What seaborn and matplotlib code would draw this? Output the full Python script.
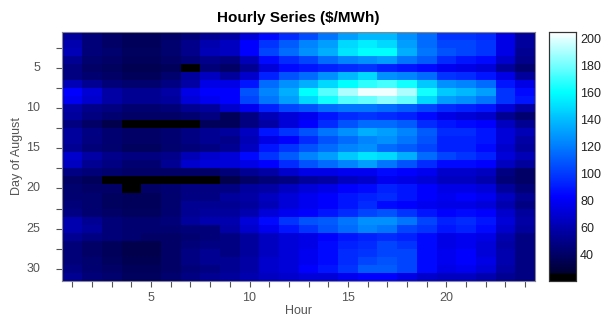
import matplotlib
matplotlib.use("Agg")
import matplotlib.pyplot as plt
import numpy as np
import pandas as pd
import seaborn as sns
from matplotlib.colors import LinearSegmentedColormap

hours = list(range(1, 25))
days = list(range(1, 32))

# $/MWh by day (rows) and hour (columns)
# low values (~20) are the black cells
prices = [
    [55, 45, 40, 37, 37, 40, 45, 52, 57, 72, 85, 95, 105, 118, 130, 138, 138, 126, 115, 98, 98, 95, 75, 55],
    [60, 45, 40, 37, 37, 42, 50, 60, 65, 82, 98, 110, 122, 130, 148, 155, 148, 130, 115, 103, 103, 98, 75, 55],
    [62, 45, 42, 38, 38, 42, 50, 62, 65, 82, 103, 115, 126, 135, 152, 160, 160, 135, 118, 107, 103, 98, 75, 52],
    [52, 42, 40, 37, 37, 40, 45, 50, 47, 62, 85, 95, 103, 115, 122, 126, 130, 118, 110, 95, 88, 85, 68, 50],
    [47, 40, 38, 35, 35, 37, 20, 45, 40, 52, 72, 85, 88, 92, 95, 98, 92, 88, 85, 78, 75, 72, 55, 43],
    [47, 43, 40, 37, 37, 42, 55, 65, 55, 68, 92, 107, 115, 126, 138, 148, 126, 122, 115, 98, 95, 88, 75, 55],
    [62, 52, 45, 42, 42, 48, 57, 75, 75, 88, 115, 126, 135, 148, 160, 168, 172, 163, 143, 126, 122, 115, 88, 75],
    [82, 70, 57, 52, 52, 57, 75, 82, 82, 107, 122, 135, 160, 175, 190, 202, 202, 190, 163, 143, 138, 130, 98, 85],
    [78, 68, 57, 52, 52, 55, 72, 78, 82, 103, 118, 130, 148, 163, 175, 178, 185, 178, 148, 130, 126, 118, 98, 88],
    [57, 50, 47, 43, 43, 45, 52, 55, 68, 78, 92, 103, 107, 115, 118, 118, 115, 110, 103, 95, 92, 88, 72, 57],
    [55, 47, 43, 40, 40, 40, 43, 47, 37, 48, 62, 72, 78, 88, 95, 98, 95, 92, 85, 75, 72, 68, 52, 43],
    [47, 40, 33, 20, 20, 20, 20, 37, 37, 47, 57, 72, 82, 95, 107, 115, 115, 110, 95, 88, 85, 82, 65, 52],
    [55, 48, 43, 40, 40, 43, 48, 52, 55, 65, 88, 98, 107, 118, 126, 135, 130, 122, 110, 95, 95, 88, 72, 62],
    [55, 47, 43, 40, 40, 43, 48, 52, 50, 62, 75, 82, 95, 107, 115, 122, 126, 118, 107, 92, 92, 88, 72, 57],
    [52, 45, 42, 38, 38, 42, 45, 48, 52, 65, 88, 98, 107, 115, 122, 126, 115, 110, 103, 92, 92, 85, 68, 55],
    [68, 57, 50, 47, 47, 50, 62, 68, 72, 85, 98, 110, 122, 130, 143, 152, 148, 135, 115, 103, 98, 92, 72, 62],
    [65, 52, 48, 43, 43, 52, 68, 72, 72, 75, 82, 95, 107, 115, 122, 130, 118, 107, 95, 85, 85, 82, 65, 55],
    [48, 45, 42, 40, 40, 40, 40, 40, 45, 52, 57, 68, 75, 75, 78, 78, 85, 82, 78, 68, 68, 65, 48, 40],
    [40, 37, 20, 20, 20, 20, 20, 20, 33, 40, 45, 48, 55, 57, 65, 68, 78, 75, 72, 65, 65, 60, 45, 40],
    [42, 40, 40, 20, 40, 43, 47, 47, 48, 55, 57, 65, 72, 75, 82, 85, 92, 88, 82, 75, 75, 72, 55, 45],
    [43, 42, 38, 37, 37, 42, 48, 48, 55, 57, 65, 72, 78, 82, 88, 92, 95, 88, 82, 78, 82, 78, 65, 52],
    [45, 42, 38, 37, 37, 42, 52, 52, 52, 55, 62, 72, 78, 82, 88, 95, 85, 82, 78, 75, 75, 72, 60, 48],
    [48, 43, 40, 38, 38, 43, 52, 55, 55, 60, 72, 78, 82, 88, 95, 103, 107, 98, 88, 82, 85, 82, 68, 55],
    [60, 52, 45, 43, 43, 45, 55, 60, 60, 72, 85, 98, 107, 110, 118, 126, 126, 118, 103, 92, 95, 88, 72, 57],
    [60, 55, 45, 43, 43, 43, 45, 45, 57, 68, 78, 88, 98, 107, 115, 122, 118, 103, 98, 88, 92, 85, 68, 55],
    [52, 48, 45, 43, 40, 40, 43, 45, 48, 55, 65, 72, 75, 82, 88, 92, 95, 92, 85, 75, 78, 75, 60, 48],
    [45, 40, 37, 33, 33, 40, 45, 48, 48, 55, 65, 72, 75, 85, 92, 95, 103, 98, 85, 75, 78, 72, 57, 48],
    [45, 40, 37, 33, 33, 40, 48, 52, 48, 55, 65, 72, 78, 85, 95, 98, 103, 103, 85, 78, 82, 72, 60, 48],
    [45, 42, 38, 35, 35, 40, 48, 52, 52, 57, 68, 72, 78, 85, 95, 103, 107, 103, 85, 78, 82, 75, 60, 48],
    [48, 43, 40, 37, 37, 40, 45, 48, 52, 57, 68, 72, 82, 88, 98, 110, 110, 103, 85, 75, 78, 72, 57, 48],
    [52, 45, 42, 38, 38, 42, 48, 52, 55, 60, 65, 68, 72, 72, 78, 82, 82, 75, 68, 65, 65, 60, 52, 48],
]

cbar_ticks = [40, 60, 80, 100, 120, 140, 160, 180, 200]
vmin, vmax = 20, 205

df = pd.DataFrame(prices, index=days, columns=hours)

# black -> navy -> blue -> cyan -> white
cmap = LinearSegmentedColormap.from_list("hourly", [
    (0.0, (0, 0, 0)),
    (0.025, (0, 0, 0)),
    (0.03, (0, 0, 0.2)),
    ((82 - vmin) / (vmax - vmin), (0, 0, 1)),
    ((160 - vmin) / (vmax - vmin), (0, 1, 1)),
    (1.0, (1, 1, 1)),
])

sns.set_style("white")
plt.rcParams['font.family'] = ['Liberation Sans', 'DejaVu Sans']

fig = plt.figure(figsize=(6.03, 3.2), dpi=100)
ax = fig.add_axes([0.1036, 0.122, 0.7836, 0.779])
cax = fig.add_axes([0.910, 0.122, 0.045, 0.779])

sns.heatmap(df, ax=ax, cbar_ax=cax, cmap=cmap, vmin=vmin, vmax=vmax,
            cbar_kws={'ticks': cbar_ticks})

grey = '#555555'
ax.set_xticks(np.arange(len(hours)) + 0.5,
              labels=[str(h) if h % 5 == 0 else '' for h in hours], rotation=0)
ytick_days = np.arange(2.5, 31, 2.5)
ax.set_yticks(ytick_days - 0.5,
              labels=[str(int(d)) if d % 5 == 0 else '' for d in ytick_days], rotation=0)
ax.tick_params(direction='out', length=4, width=0.8, color=grey, labelcolor=grey,
               labelsize=9, left=True, bottom=True)
ax.tick_params(axis='x', pad=4)
ax.tick_params(axis='y', pad=12)
for s in ax.spines.values():
    s.set_visible(True)
    s.set_color('#888888')
    s.set_linewidth(0.8)

ax.set_xlabel("Hour", color=grey, fontsize=9, labelpad=1)
ax.set_ylabel("Day of August", color=grey, fontsize=9, labelpad=2)
ax.set_title("Hourly Series ($/MWh)", fontsize=11, fontweight='bold', color='black', pad=7)

cax.tick_params(direction='in', length=3, width=0.8, color=grey, labelcolor='#222222',
                labelsize=9, right=True, pad=3)
cax.set_frame_on(True)
for s in cax.spines.values():
    s.set_visible(True)
    s.set_color('#333333')
    s.set_linewidth(0.8)

fig.savefig("out.png", dpi=100)
